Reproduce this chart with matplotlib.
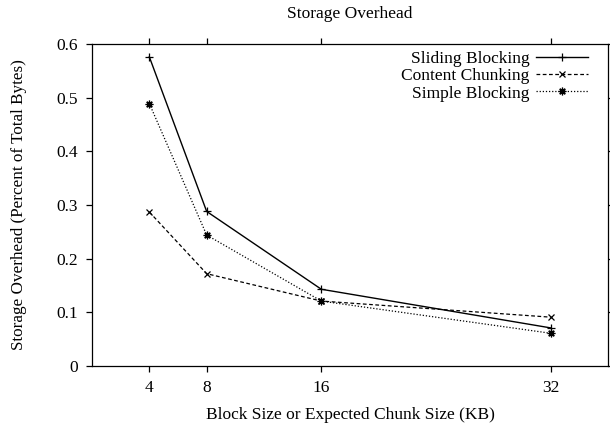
import numpy as np
import matplotlib.pyplot as plt

plt.rcParams['font.family'] = ['Liberation Serif', 'DejaVu Serif']

# данные
block_kb = [4, 8, 16, 32]
sliding = [0.576, 0.288, 0.143, 0.071]
content = [0.287, 0.172, 0.121, 0.091]
simple = [0.489, 0.244, 0.121, 0.061]
x_ticks = [4, 8, 16, 32]
y_ticks = [0, 0.1, 0.2, 0.3, 0.4, 0.5, 0.6]

fig = plt.figure(figsize=(6.1, 4.26), dpi=100)
ax = fig.add_axes([92 / 610, 1 - 366 / 426, 516 / 610, 322 / 426])

ax.plot(block_kb, sliding, 'k-', lw=1.0, marker='+', ms=6, mew=0.9, label='Sliding Blocking')
ax.plot(block_kb, content, 'k', ls=(0, (3, 2)), lw=0.9, marker='x', ms=4.5, mew=0.9,
        label='Content Chunking')
ax.plot(block_kb, simple, 'k', ls=(0, (1, 1.5)), lw=0.9, marker=(8, 2, 0), ms=5.5, mew=0.9,
        label='Simple Blocking')

ax.set_xlim(0, 36)
ax.set_ylim(0, 0.6)
ax.set_xticks(x_ticks)
ax.set_yticks(y_ticks)
ax.set_yticklabels(['0', '0.1', '0.2', '0.3', '0.4', '0.5', '0.6'])
ax.tick_params(direction='out', top=True, right=True, labeltop=False, labelright=False,
               length=4, width=0.9, labelsize=12.5, pad=6)
for s in ax.spines.values():
    s.set_linewidth(0.9)

ax.set_xlabel('Block Size or Expected Chunk Size (KB)', fontsize=12.5, labelpad=8)
ax.set_ylabel('Storage Overhead (Percent of Total Bytes)', fontsize=12.3, labelpad=21)
ax.set_title('Storage Overhead', fontsize=12.5, pad=19)

# легенда справа сверху, маркеры после текста
ax.legend(loc='upper right', bbox_to_anchor=(588 / 610, 1 - 51 / 426),
          bbox_transform=fig.transFigure, frameon=False, markerfirst=False,
          fontsize=12.5, handlelength=3.0, borderaxespad=0, borderpad=0,
          labelspacing=0.06, handletextpad=0.35)

plt.savefig('out.png', dpi=100)
